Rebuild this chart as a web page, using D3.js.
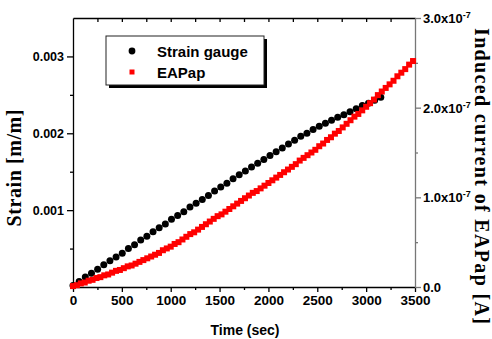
<!DOCTYPE html>
<html>
<head>
<meta charset="utf-8">
<script src="https://cdn.jsdelivr.net/npm/d3@7"></script>
<style>
body{margin:0;background:#fff;}
svg{display:block;}
.tk{font-family:"Liberation Sans",Arial,sans-serif;font-weight:bold;fill:#000;}
.ttl{font-family:"Liberation Serif","Times New Roman",serif;font-weight:bold;fill:#000;}
</style>
</head>
<body>
<svg id="chart" width="492" height="339"></svg>
<script>
// strain gauge, time in sec, strain in 1e-3 m/m
const strainTime = [0,63,126,189,252,315,378,441,504,567,630,693,756,819,882,945,1008,1071,1134,1197,
  1260,1323,1386,1449,1512,1575,1638,1701,1764,1827,1890,1953,2016,2079,2142,2205,2268,2331,2394,2457,
  2520,2583,2646,2709,2772,2835,2898,2961,3024,3087,3150];
const strainValues = [0.02,0.07,0.13,0.18,0.23,0.29,0.34,0.39,0.44,0.50,0.55,0.61,0.66,0.72,0.77,0.82,0.88,0.93,0.98,1.04,
  1.09,1.14,1.19,1.25,1.30,1.35,1.41,1.46,1.51,1.56,1.61,1.66,1.71,1.76,1.81,1.86,1.91,1.96,2.00,2.05,
  2.09,2.13,2.17,2.21,2.24,2.28,2.32,2.36,2.39,2.43,2.47];

// EAPap induced current, time in sec, current in 1e-7 A
const currentTime = [0,40,80,120,160,200,240,280,320,360,400,440,480,520,560,600,640,680,720,760,
  800,840,880,920,960,1000,1040,1080,1120,1160,1200,1240,1280,1320,1360,1400,1440,1480,1520,1560,
  1600,1640,1680,1720,1760,1800,1840,1880,1920,1960,2000,2040,2080,2120,2160,2200,2240,2280,2320,2360,
  2400,2440,2480,2520,2560,2600,2640,2680,2720,2760,2800,2840,2880,2920,2960,3000,3040,3080,3120,3160,
  3200,3240,3280,3320,3360,3400,3440,3480];
const currentValues = [0.01,0.02,0.04,0.05,0.07,0.08,0.10,0.11,0.13,0.14,0.16,0.18,0.19,0.21,0.23,0.24,0.26,0.28,0.30,0.32,
  0.34,0.36,0.38,0.41,0.43,0.45,0.48,0.50,0.53,0.56,0.59,0.61,0.64,0.67,0.70,0.73,0.76,0.79,0.81,0.84,
  0.87,0.90,0.93,0.96,0.99,1.02,1.05,1.07,1.10,1.13,1.16,1.19,1.22,1.25,1.28,1.31,1.34,1.37,1.41,1.44,
  1.47,1.50,1.53,1.57,1.60,1.64,1.67,1.71,1.74,1.78,1.82,1.86,1.90,1.93,1.97,2.01,2.05,2.09,2.14,2.18,
  2.22,2.26,2.30,2.35,2.39,2.43,2.48,2.52];

const xTicks = [0,500,1000,1500,2000,2500,3000,3500];
const strainTicks = [1,2,3];
const strainTickLabels = ["0.001","0.002","0.003"];
const currentTicks = [0,1,2,3];
const currentTickLabels = ["0.0","1.0x10","2.0x10","3.0x10"];

const svg = d3.select("#chart");
const pLeft=73, pRight=415, pTop=18, pBottom=287;

const x = d3.scaleLinear([0,3500],[pLeft,pRight]);
const yL = d3.scaleLinear([0,3.5],[pBottom,pTop]);
const yR = d3.scaleLinear([0,3],[pBottom,pTop]);

function styleAxis(g, color){
  g.select(".domain").attr("stroke",color).attr("stroke-width",1.3);
  g.selectAll(".tick line").attr("stroke",color).attr("stroke-width",1.3);
}

// bottom axis
const xa = svg.append("g").attr("transform",`translate(0,${pBottom})`)
  .call(d3.axisBottom(x).tickValues(xTicks).tickSize(5).tickSizeOuter(0).tickPadding(3).tickFormat(d3.format("d")));
styleAxis(xa,"#000");
xa.selectAll("text").attr("class","tk").style("font-size","13.5px");
svg.append("g").attr("transform",`translate(0,${pBottom})`)
  .call(d3.axisBottom(x).tickValues(xTicks.slice(0,-1).map(d=>d+250)).tickSize(3).tickFormat(""))
  .call(g=>{g.select(".domain").remove();styleAxis(g,"#000");});

// top axis (inward ticks)
svg.append("g").attr("transform",`translate(0,${pTop})`)
  .call(d3.axisBottom(x).tickValues(d3.range(250,3500,250)).tickSize(4).tickSizeOuter(0).tickFormat(""))
  .call(g=>styleAxis(g,"#000"));

// left axis
const la = svg.append("g").attr("transform",`translate(${pLeft},0)`)
  .call(d3.axisLeft(yL).tickValues(strainTicks).tickSize(6).tickSizeOuter(0).tickPadding(3)
    .tickFormat((d,i)=>strainTickLabels[i]));
styleAxis(la,"#000");
la.selectAll("text").attr("class","tk").style("font-size","12.5px");
svg.append("g").attr("transform",`translate(${pLeft},0)`)
  .call(d3.axisLeft(yL).tickValues([0.5,1.5,2.5]).tickSize(3).tickFormat(""))
  .call(g=>{g.select(".domain").remove();styleAxis(g,"#000");});

// right axis (grey)
const ra = svg.append("g").attr("transform",`translate(${pRight},0)`)
  .call(d3.axisRight(yR).tickValues(currentTicks).tickSize(6).tickSizeOuter(0).tickPadding(3)
    .tickFormat(""));
styleAxis(ra,"#777");
ra.selectAll(".tick").append("text").attr("class","tk")
  .attr("x",8).attr("dy","0.35em").style("font-size","13px")
  .each(function(d,i){
    const t=d3.select(this);
    t.append("tspan").text(currentTickLabels[i]);
    if(i>0) t.append("tspan").attr("dy","-5").style("font-size","9px").text("-7");
  });
svg.append("g").attr("transform",`translate(${pRight},0)`)
  .call(d3.axisRight(yR).tickValues([0.5,1.5,2.5]).tickSize(3).tickFormat(""))
  .call(g=>{g.select(".domain").remove();styleAxis(g,"#777");});

// data
svg.append("g").selectAll("circle").data(strainTime).join("circle")
  .attr("cx",d=>x(d)).attr("cy",(d,i)=>yL(strainValues[i])).attr("r",3.5).attr("fill","#000");
const sq=6;
svg.append("g").selectAll("rect").data(currentTime).join("rect")
  .attr("x",d=>x(d)-sq/2).attr("y",(d,i)=>yR(currentValues[i])-sq/2)
  .attr("width",sq).attr("height",sq).attr("fill","#ff0000");

// legend
const lg = svg.append("g");
lg.append("rect").attr("x",109).attr("y",39).attr("width",158).attr("height",49).attr("fill","#000");
lg.append("rect").attr("x",106).attr("y",36).attr("width",158).attr("height",49)
  .attr("fill","#fff").attr("stroke","#222").attr("stroke-width",1);
lg.append("circle").attr("cx",132).attr("cy",51).attr("r",3.4).attr("fill","#000");
lg.append("rect").attr("x",129.5).attr("y",69.5).attr("width",5).attr("height",5).attr("fill","#ff0000");
lg.append("text").attr("class","tk").attr("x",157).attr("y",57).style("font-size","15px").text("Strain gauge");
lg.append("text").attr("class","tk").attr("x",157).attr("y",78).style("font-size","15px").text("EAPap");

// titles
svg.append("text").attr("class","tk").attr("x",245).attr("y",335).attr("text-anchor","middle")
  .style("font-size","14px").text("Time (sec)");
svg.append("text").attr("class","ttl").attr("transform","translate(21,168) rotate(-90)").attr("text-anchor","middle")
  .attr("textLength",117).attr("lengthAdjust","spacing")
  .style("font-size","20px").text("Strain [m/m]");
svg.append("text").attr("class","ttl").attr("transform","translate(475,176) rotate(90)").attr("text-anchor","middle")
  .attr("textLength",296).attr("lengthAdjust","spacing")
  .style("font-size","20px").text("Induced current of EAPap [A]");
</script>
</body>
</html>
